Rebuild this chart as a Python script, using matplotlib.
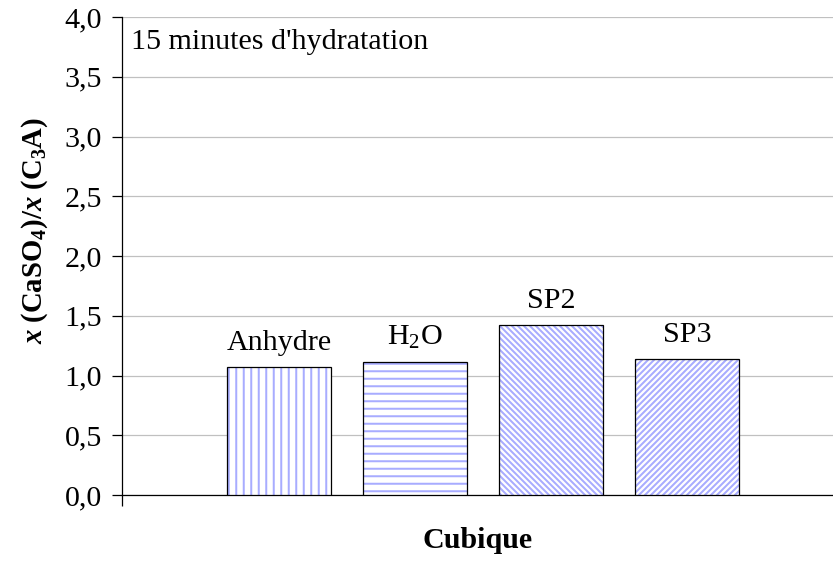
import matplotlib
matplotlib.use("Agg")
import matplotlib.pyplot as plt
from matplotlib.ticker import FuncFormatter

# Ratio x(CaSO4)/x(C3A) after 15 min of hydration, cubic C3A
categories = ["Anhydre", "H$_2$O", "SP2", "SP3"]
values = [1.07, 1.11, 1.42, 1.14]
hatches = ["||", "--", "\\" * 5, "/" * 5]
y_ticks = [0.0, 0.5, 1.0, 1.5, 2.0, 2.5, 3.0, 3.5, 4.0]

plt.rcParams["font.family"] = "Liberation Serif"
plt.rcParams["mathtext.fontset"] = "custom"
plt.rcParams["mathtext.rm"] = "Liberation Serif"
plt.rcParams["mathtext.it"] = "Liberation Serif:italic"
plt.rcParams["mathtext.bf"] = "Liberation Serif:bold"
plt.rcParams["mathtext.bfit"] = "Liberation Serif:bold:italic"
plt.rcParams["hatch.linewidth"] = 1.6

FS = 24
DPI = 90
fig = plt.figure(figsize=(833 / DPI, 563 / DPI), dpi=DPI)
ax = fig.add_axes([122 / 833, 68 / 563, 1 - 122 / 833, 478 / 563])

pos = list(range(len(categories)))
# hatch fill in lavender, then the black outline on top
ax.bar(pos, values, width=0.765, color="white", edgecolor="#a8acff",
       linewidth=0, hatch=hatches, zorder=3)
ax.bar(pos, values, width=0.765, fill=False, edgecolor="black",
       linewidth=1.0, zorder=4)

for x, v, name in zip(pos, values, categories):
    ax.annotate(name, (x, v), xytext=(0, 9), textcoords="offset points",
                ha="center", va="bottom", fontsize=FS)

ax.set_ylim(0, 4)
ax.set_xlim(-1.154, 4.074)
ax.set_yticks(y_ticks)
ax.yaxis.set_major_formatter(FuncFormatter(lambda v, p: f"{v:.1f}".replace(".", ",")))
ax.tick_params(axis="y", direction="out", length=8, width=1, labelsize=FS, pad=8)
ax.set_xticks([-1.154])
ax.set_xticklabels([""])
ax.tick_params(axis="x", direction="out", length=9, width=1)

ax.grid(axis="y", color="#c0c0c0", linewidth=1, zorder=0)
ax.set_axisbelow(True)
for side in ["top", "right"]:
    ax.spines[side].set_visible(False)
ax.spines["left"].set_linewidth(1)
ax.spines["bottom"].set_linewidth(1)

ax.set_ylabel(r"$\mathbfit{x}\ \mathbf{(CaSO_4)/}\mathbfit{x}\ \mathbf{(C_3A)}$",
              fontsize=23)
ax.yaxis.label.set_va("center")
ax.yaxis.set_label_coords(-(122 - 35) / 711, (495 - 230) / 478)
ax.set_xlabel("Cubique", fontsize=FS, fontweight="bold")
ax.xaxis.label.set_va("center")
ax.xaxis.set_label_coords(0.5, -45 / 478)
ax.text(0.012, 0.975, "15 minutes d'hydratation", transform=ax.transAxes,
        ha="left", va="top", fontsize=FS)

fig.savefig("out.png", dpi=DPI)
